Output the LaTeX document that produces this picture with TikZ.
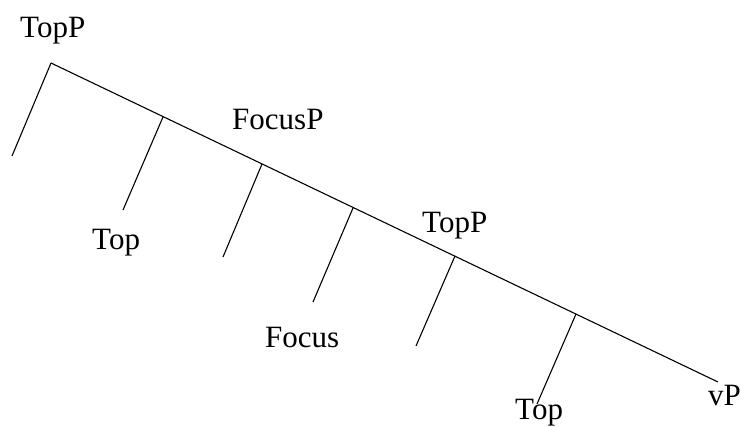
\documentclass[tikz,border=0pt]{standalone}
\usepackage{fontspec}
\setmainfont{Liberation Serif}
\begin{document}
\begin{tikzpicture}[x=1pt,y=-1pt,
  edge/.style={line width=1.1pt},
  lbl/.style={anchor=base west,inner sep=0pt,font=\fontsize{31}{31}\selectfont}]
\useasboundingbox (0,0) rectangle (741,427);
% spine
\coordinate (p0) at (51,63);
\coordinate (p1) at (163,117);
\coordinate (p2) at (262,164);
\coordinate (p3) at (353,208);
\coordinate (p4) at (455,256);
\coordinate (p5) at (576,314);
\coordinate (pe) at (718,382);
% branch ends
\coordinate (b0) at (12,156);
\coordinate (b1) at (123,210);
\coordinate (b2) at (223,257);
\coordinate (b3) at (313,302);
\coordinate (b4) at (416,346);
\coordinate (b5) at (537,404);
\draw[edge] (p0) -- (pe);
\draw[edge] (p0) -- (b0);
\draw[edge] (p1) -- (b1);
\draw[edge] (p2) -- (b2);
\draw[edge] (p3) -- (b3);
\draw[edge] (p4) -- (b4);
\draw[edge] (p5) -- (b5);
% labels
\node[lbl] (l1) at (20,38) {TopP};
\node[lbl] (l2) at (232,130) {FocusP};
\node[lbl] (l3) at (422,233) {TopP};
\node[lbl] (l4) at (92,250) {Top};
\node[lbl] (l5) at (265,347) {Focus};
\node[lbl] (l6) at (515,419.5) {Top};
\node[lbl] (l7) at (708,405) {vP};
\end{tikzpicture}
\end{document}
